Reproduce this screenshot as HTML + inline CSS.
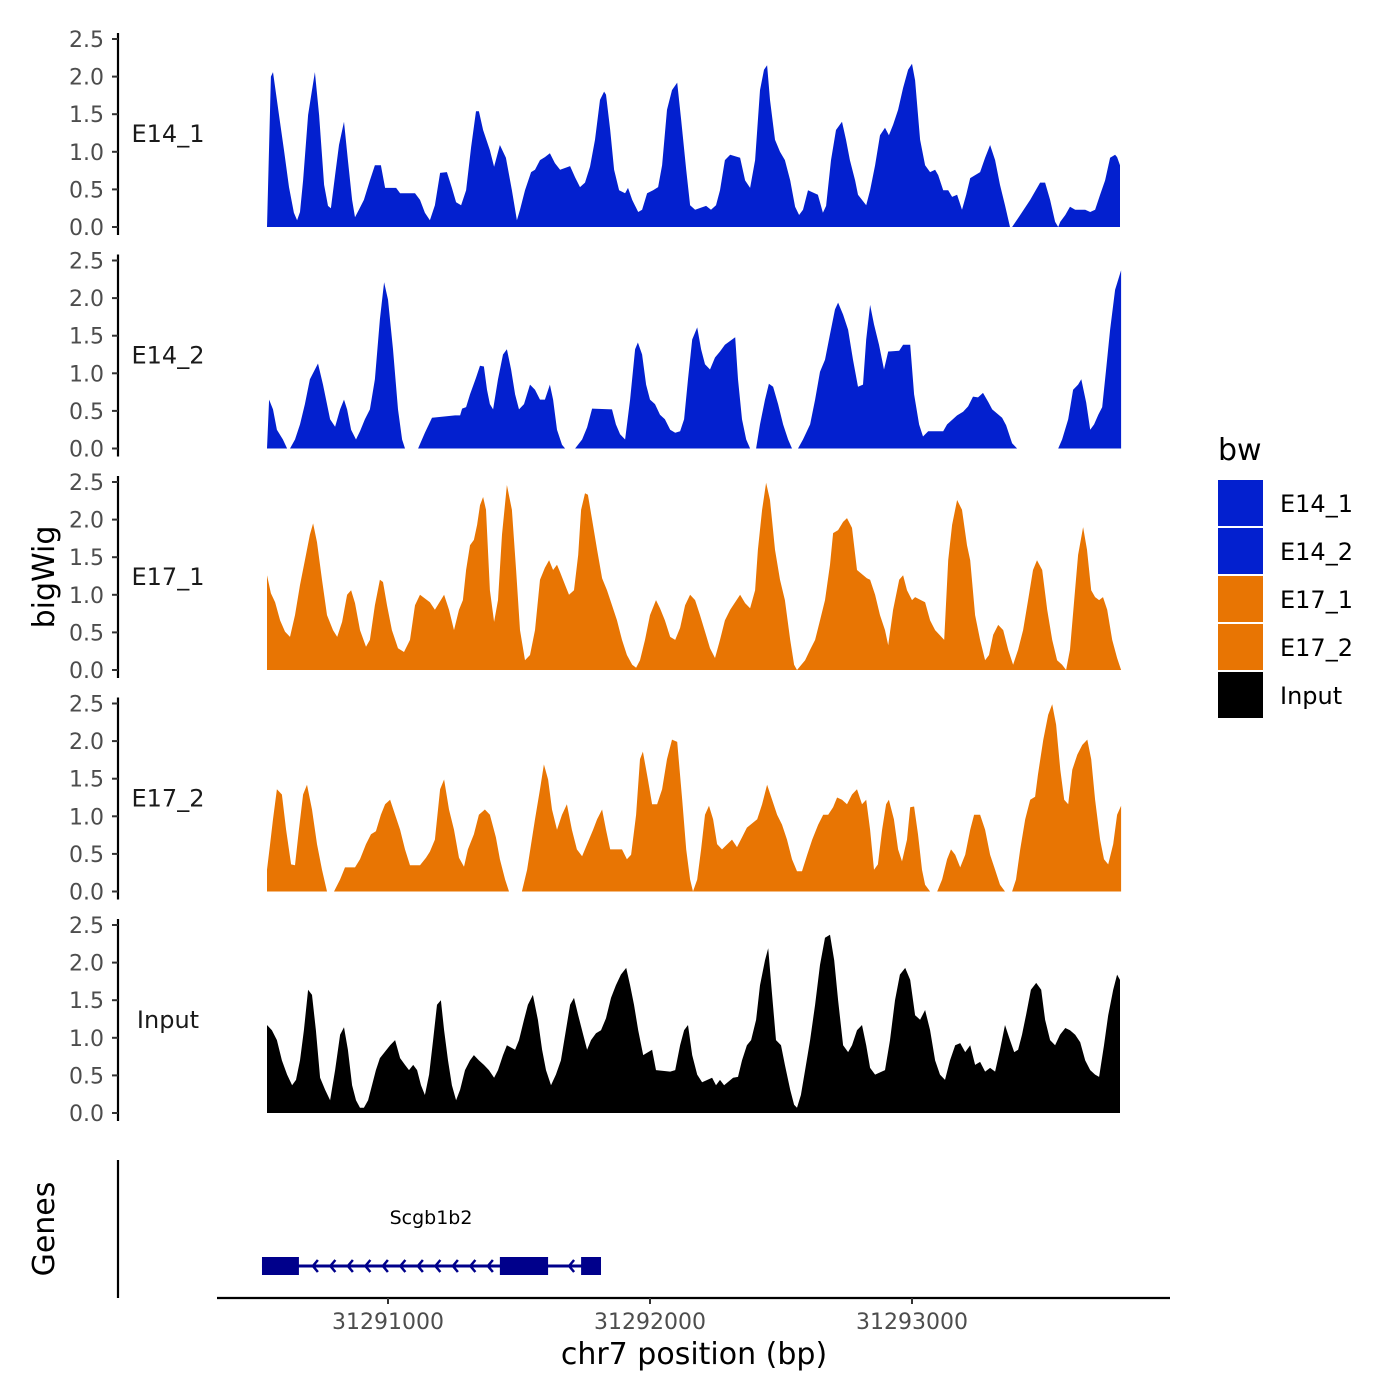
<!DOCTYPE html>
<html><head><meta charset="utf-8"><style>
html,body{margin:0;padding:0;background:#fff;}
svg{display:block;font-family:"DejaVu Sans","Liberation Sans",sans-serif;}
</style></head><body>
<svg id="chart" width="1400" height="1400" viewBox="0 0 1400 1400" xmlns="http://www.w3.org/2000/svg"></svg>
<script>
// ---- data ----
const trackNames = ["E14_1","E14_2","E17_1","E17_2","Input"];
const trackColors = ["#0320cf","#0320cf","#e87503","#e87503","#000000"];
const yTicks = [0,0.5,1,1.5,2,2.5];
const yTickLabels = ["0.0","0.5","1.0","1.5","2.0","2.5"];
const xTicks = [31291000,31292000,31293000];
const xTickLabels = ["31291000","31292000","31293000"];
const geneName = "Scgb1b2";
const geneStart = 31290519, geneEnd = 31291813;
const geneExonStarts = [31290519,31291427,31291737];
const geneExonEnds = [31290660,31291611,31291813];

const e14_1_pos = [31290538,31290553,31290561,31290584,31290603,31290622,31290641,31290653,31290664,31290676,31290695,31290710,31290721,31290737,31290756,31290771,31290782,31290798,31290813,31290832,31290847,31290863,31290874,31290889,31290908,31290931,31290950,31290973,31290989,31291031,31291046,31291103,31291122,31291141,31291160,31291179,31291199,31291225,31291244,31291260,31291279,31291298,31291317,31291336,31291347,31291363,31291389,31291405,31291427,31291450,31291473,31291492,31291504,31291523,31291546,31291561,31291580,31291599,31291618,31291637,31291657,31291695,31291714,31291733,31291752,31291771,31291790,31291809,31291825,31291832,31291848,31291863,31291882,31291905,31291916,31291932,31291955,31291970,31291989,31292012,31292031,31292046,31292065,31292084,31292104,31292119,31292138,31292153,31292172,31292214,31292233,31292252,31292267,31292286,31292306,31292344,31292363,31292382,31292401,31292420,31292435,31292447,31292458,31292477,31292496,31292515,31292535,31292554,31292569,31292584,31292603,31292641,31292660,31292672,31292691,31292710,31292733,31292748,31292763,31292783,31292794,31292825,31292840,31292859,31292878,31292897,31292912,31292928,31292947,31292966,31292985,31293000,31293012,31293031,31293050,31293069,31293088,31293100,31293119,31293138,31293153,31293172,31293191,31293207,31293222,31293260,31293279,31293298,31293317,31293336,31293355,31293374,31293382,31293413,31293451,31293489,31293508,31293527,31293546,31293558,31293566,31293585,31293603,31293623,31293661,31293680,31293699,31293718,31293737,31293756,31293775,31293783,31293794];
const e14_1_val = [0,2.0,2.06,1.49,1.02,0.53,0.19,0.09,0.2,0.62,1.49,1.82,2.06,1.49,0.56,0.28,0.25,0.69,1.09,1.4,0.89,0.36,0.13,0.23,0.36,0.62,0.82,0.82,0.52,0.52,0.45,0.45,0.36,0.19,0.09,0.29,0.72,0.73,0.52,0.33,0.29,0.49,1.06,1.54,1.54,1.29,1.02,0.8,1.09,0.92,0.49,0.09,0.23,0.49,0.73,0.76,0.89,0.93,0.98,0.85,0.76,0.81,0.66,0.53,0.59,0.8,1.16,1.69,1.8,1.76,1.29,0.76,0.49,0.45,0.52,0.36,0.2,0.23,0.45,0.49,0.53,0.82,1.56,1.82,1.92,1.42,0.76,0.29,0.23,0.28,0.23,0.29,0.49,0.89,0.96,0.92,0.62,0.52,0.89,1.82,2.09,2.15,1.69,1.16,1.0,0.89,0.62,0.27,0.16,0.23,0.49,0.43,0.19,0.28,0.89,1.29,1.4,1.16,0.89,0.62,0.43,0.29,0.49,0.82,1.22,1.32,1.22,1.36,1.56,1.85,2.09,2.17,1.95,1.16,0.82,0.73,0.76,0.69,0.49,0.49,0.4,0.43,0.23,0.43,0.65,0.73,0.92,1.09,0.89,0.56,0.29,0,0,0.16,0.36,0.59,0.59,0.36,0.07,0,0.07,0.16,0.27,0.23,0.23,0.2,0.23,0.43,0.62,0.92,0.96,0.93,0.82];

const e14_2_pos = [31290538,31290546,31290561,31290576,31290599,31290615,31290626,31290645,31290664,31290683,31290702,31290733,31290752,31290779,31290798,31290817,31290832,31290844,31290859,31290878,31290893,31290912,31290931,31290950,31290969,31290985,31291000,31291019,31291038,31291054,31291065,31291115,31291141,31291168,31291256,31291275,31291283,31291298,31291313,31291336,31291351,31291366,31291378,31291389,31291401,31291420,31291439,31291454,31291470,31291485,31291500,31291519,31291542,31291561,31291580,31291599,31291618,31291630,31291645,31291664,31291676,31291714,31291741,31291760,31291779,31291855,31291870,31291886,31291905,31291924,31291943,31291954,31291970,31291985,31292000,31292019,31292038,31292057,31292077,31292096,31292115,31292130,31292145,31292161,31292180,31292195,31292210,31292229,31292248,31292267,31292286,31292325,31292336,31292351,31292367,31292382,31292405,31292420,31292439,31292454,31292470,31292489,31292508,31292527,31292542,31292565,31292584,31292611,31292630,31292649,31292668,31292687,31292706,31292718,31292737,31292756,31292775,31292794,31292813,31292825,31292840,31292855,31292874,31292893,31292909,31292951,31292966,31292993,31293008,31293027,31293042,31293062,31293119,31293134,31293172,31293195,31293214,31293233,31293252,31293271,31293291,31293306,31293344,31293359,31293382,31293401,31293558,31293573,31293596,31293615,31293634,31293646,31293665,31293680,31293695,31293711,31293726,31293741,31293756,31293775,31293798];
const e14_2_val = [0,0.65,0.52,0.25,0.12,0,0,0.12,0.32,0.59,0.92,1.13,0.85,0.39,0.29,0.52,0.65,0.52,0.25,0.12,0.23,0.39,0.52,0.92,1.72,2.21,1.98,1.32,0.52,0.12,0,0,0.21,0.41,0.44,0.44,0.53,0.55,0.72,0.94,1.1,1.09,0.78,0.59,0.52,0.92,1.25,1.32,1.05,0.72,0.52,0.59,0.85,0.78,0.65,0.65,0.85,0.65,0.25,0.05,0,0,0.12,0.28,0.53,0.52,0.32,0.19,0.12,0.65,1.32,1.41,1.25,0.85,0.65,0.59,0.45,0.39,0.25,0.21,0.23,0.39,0.92,1.45,1.61,1.32,1.12,1.05,1.21,1.29,1.38,1.48,0.92,0.39,0.12,0,0,0.32,0.65,0.86,0.82,0.59,0.32,0.12,0,0,0.12,0.32,0.65,1.02,1.18,1.52,1.85,1.94,1.78,1.58,1.18,0.82,0.85,1.45,1.91,1.65,1.38,1.05,1.29,1.3,1.38,1.38,0.72,0.32,0.16,0.23,0.23,0.32,0.44,0.49,0.56,0.69,0.68,0.74,0.62,0.52,0.41,0.31,0.07,0,0,0.12,0.39,0.78,0.85,0.92,0.61,0.25,0.32,0.45,0.55,1.05,1.58,2.11,2.37];

const e17_1_pos = [31290538,31290553,31290569,31290588,31290607,31290626,31290645,31290664,31290683,31290702,31290714,31290729,31290748,31290767,31290790,31290806,31290825,31290844,31290859,31290874,31290893,31290916,31290931,31290950,31290969,31290981,31290996,31291015,31291038,31291061,31291084,31291103,31291122,31291160,31291179,31291214,31291233,31291252,31291271,31291286,31291298,31291313,31291328,31291340,31291351,31291363,31291374,31291389,31291405,31291420,31291435,31291454,31291473,31291489,31291504,31291523,31291542,31291561,31291580,31291599,31291615,31291630,31291645,31291657,31291676,31291691,31291710,31291726,31291737,31291752,31291763,31291779,31291798,31291817,31291836,31291855,31291874,31291893,31291912,31291932,31291947,31291962,31291981,31292000,31292023,31292038,31292057,31292077,31292096,31292115,31292134,31292153,31292172,31292191,31292210,31292229,31292248,31292267,31292286,31292306,31292344,31292363,31292382,31292401,31292412,31292428,31292443,31292458,31292477,31292496,31292515,31292535,31292550,31292561,31292592,31292611,31292630,31292649,31292668,31292687,31292699,31292718,31292737,31292752,31292771,31292790,31292828,31292840,31292859,31292878,31292897,31292909,31292928,31292951,31292966,31292981,31293000,31293012,31293050,31293069,31293088,31293123,31293138,31293153,31293172,31293191,31293210,31293222,31293241,31293260,31293279,31293294,31293310,31293329,31293348,31293367,31293386,31293405,31293424,31293443,31293462,31293477,31293497,31293516,31293535,31293554,31293573,31293588,31293603,31293619,31293634,31293653,31293668,31293684,31293699,31293714,31293729,31293745,31293764,31293783,31293798];
const e17_1_val = [1.26,1.02,0.9,0.66,0.51,0.44,0.73,1.13,1.46,1.8,1.95,1.7,1.2,0.73,0.53,0.44,0.64,1.0,1.06,0.89,0.53,0.31,0.4,0.86,1.2,1.17,0.86,0.53,0.29,0.24,0.4,0.86,1.0,0.9,0.8,1.0,0.8,0.53,0.8,0.93,1.33,1.66,1.73,1.93,2.19,2.3,2.13,1.06,0.64,0.93,1.8,2.46,2.13,1.33,0.53,0.13,0.2,0.53,1.2,1.36,1.46,1.33,1.4,1.3,1.13,1.0,1.06,1.53,2.13,2.35,2.33,2.0,1.6,1.22,1.06,0.86,0.66,0.4,0.2,0.07,0.03,0.13,0.4,0.73,0.93,0.82,0.66,0.44,0.4,0.56,0.86,1.0,0.93,0.73,0.51,0.29,0.16,0.4,0.66,0.8,1.0,0.89,0.82,1.06,1.6,2.13,2.49,2.26,1.6,1.2,0.93,0.4,0.07,0,0.13,0.27,0.4,0.66,0.93,1.4,1.82,1.86,1.97,2.02,1.89,1.33,1.22,1.2,1.0,0.73,0.53,0.33,0.8,1.2,1.26,1.06,0.93,0.97,0.9,0.66,0.53,0.4,1.46,1.93,2.26,2.13,1.66,1.46,0.73,0.4,0.13,0.2,0.47,0.6,0.53,0.27,0.07,0.27,0.53,0.93,1.33,1.46,1.33,0.8,0.4,0.13,0.07,0,0.27,0.93,1.53,1.9,1.6,1.06,0.97,0.93,0.97,0.8,0.4,0.16,0];

const e17_2_pos = [31290538,31290550,31290561,31290576,31290595,31290611,31290630,31290645,31290660,31290676,31290691,31290710,31290729,31290748,31290767,31290794,31290817,31290836,31290874,31290893,31290916,31290935,31290954,31290973,31290989,31291008,31291027,31291046,31291065,31291084,31291122,31291145,31291160,31291179,31291199,31291214,31291233,31291252,31291271,31291290,31291305,31291328,31291347,31291370,31291389,31291412,31291427,31291447,31291462,31291511,31291531,31291546,31291561,31291580,31291595,31291611,31291626,31291645,31291664,31291683,31291702,31291721,31291741,31291760,31291783,31291798,31291817,31291832,31291848,31291893,31291912,31291928,31291947,31291962,31291973,31291992,31292008,31292027,31292046,31292065,31292084,31292104,31292123,31292138,31292153,31292164,31292180,31292195,31292210,31292225,31292241,31292256,31292275,31292313,31292332,31292351,31292370,31292409,31292428,31292447,31292466,31292485,31292504,31292523,31292542,31292561,31292580,31292600,31292619,31292642,31292661,31292680,31292699,31292714,31292733,31292752,31292771,31292790,31292809,31292825,31292840,31292855,31292870,31292886,31292901,31292912,31292931,31292947,31292962,31292981,31292993,31293008,31293023,31293038,31293050,31293069,31293096,31293115,31293134,31293149,31293165,31293184,31293203,31293222,31293237,31293260,31293279,31293298,31293317,31293336,31293355,31293382,31293397,31293413,31293432,31293451,31293470,31293481,31293501,31293520,31293535,31293550,31293566,31293581,31293596,31293612,31293631,31293650,31293669,31293684,31293699,31293718,31293733,31293749,31293768,31293783,31293798];
const e17_2_val = [0.29,0.63,0.96,1.36,1.29,0.82,0.36,0.35,0.82,1.29,1.42,1.09,0.63,0.29,0,0,0.16,0.32,0.32,0.43,0.63,0.76,0.8,1.02,1.16,1.22,1.02,0.82,0.56,0.35,0.35,0.45,0.53,0.69,1.36,1.49,1.09,0.82,0.45,0.33,0.56,0.76,1.02,1.09,1.02,0.72,0.43,0.16,0,0,0.29,0.63,0.96,1.36,1.69,1.49,1.09,0.82,1.02,1.16,0.82,0.56,0.47,0.63,0.82,0.96,1.09,0.82,0.56,0.56,0.43,0.49,1.02,1.76,1.86,1.49,1.16,1.16,1.36,1.76,2.02,1.99,1.22,0.56,0.16,0,0.16,0.56,1.02,1.14,0.96,0.63,0.56,0.69,0.59,0.72,0.85,0.96,1.16,1.42,1.22,1.02,0.89,0.69,0.43,0.27,0.27,0.49,0.69,0.89,1.02,1.02,1.12,1.25,1.22,1.16,1.29,1.36,1.16,1.22,0.82,0.29,0.36,0.82,1.16,1.22,0.96,0.56,0.4,0.69,1.12,1.13,0.76,0.29,0.09,0,0,0.16,0.43,0.56,0.49,0.32,0.49,0.82,1.02,1.02,0.82,0.49,0.29,0.09,0,0,0.16,0.56,0.96,1.22,1.26,1.56,2.02,2.35,2.49,2.22,1.62,1.22,1.16,1.62,1.82,1.95,2.02,1.76,1.22,0.69,0.43,0.36,0.63,1.02,1.14];

const input_pos = [31290538,31290557,31290576,31290595,31290615,31290634,31290649,31290664,31290679,31290695,31290710,31290725,31290741,31290760,31290779,31290798,31290817,31290832,31290847,31290863,31290878,31290893,31290908,31290924,31290939,31290954,31290969,31291008,31291027,31291046,31291065,31291080,31291096,31291111,31291126,31291141,31291157,31291172,31291187,31291202,31291214,31291229,31291244,31291260,31291275,31291294,31291313,31291328,31291347,31291366,31291385,31291405,31291420,31291439,31291454,31291485,31291500,31291519,31291534,31291553,31291572,31291588,31291603,31291622,31291641,31291660,31291679,31291695,31291710,31291726,31291745,31291760,31291775,31291794,31291813,31291832,31291851,31291870,31291889,31291909,31291924,31291939,31291955,31291974,31292008,31292023,31292077,31292096,31292115,31292130,31292145,31292161,31292180,31292199,31292237,31292252,31292267,31292283,31292317,31292336,31292351,31292370,31292386,31292405,31292420,31292439,31292451,31292466,31292481,31292500,31292515,31292535,31292550,31292561,31292576,31292592,31292611,31292630,31292649,31292668,31292687,31292703,31292718,31292737,31292756,31292771,31292790,31292809,31292825,31292840,31292859,31292897,31292916,31292935,31292954,31292974,31292993,31293012,31293031,31293050,31293069,31293088,31293107,31293126,31293145,31293165,31293184,31293203,31293222,31293241,31293260,31293279,31293298,31293317,31293336,31293355,31293374,31293390,31293405,31293420,31293435,31293454,31293474,31293493,31293508,31293527,31293546,31293565,31293585,31293603,31293623,31293642,31293661,31293680,31293699,31293714,31293733,31293749,31293768,31293783,31293794];
const input_val = [1.17,1.1,0.97,0.7,0.51,0.37,0.44,0.7,1.1,1.64,1.57,1.1,0.47,0.31,0.17,0.57,1.04,1.14,0.84,0.37,0.17,0.07,0.07,0.17,0.37,0.57,0.73,0.9,0.97,0.73,0.64,0.57,0.64,0.57,0.37,0.24,0.51,0.97,1.44,1.5,1.1,0.7,0.37,0.17,0.31,0.57,0.7,0.77,0.7,0.64,0.57,0.47,0.57,0.77,0.9,0.84,0.97,1.24,1.44,1.57,1.24,0.84,0.57,0.37,0.51,0.7,1.1,1.44,1.53,1.3,1.04,0.84,0.97,1.06,1.1,1.26,1.53,1.7,1.84,1.93,1.7,1.44,1.1,0.77,0.84,0.57,0.55,0.57,0.9,1.1,1.17,0.77,0.51,0.41,0.47,0.37,0.44,0.37,0.47,0.48,0.7,0.9,0.97,1.24,1.7,2.03,2.19,1.57,0.97,0.9,0.64,0.31,0.11,0.07,0.24,0.57,0.97,1.44,1.97,2.33,2.37,2.03,1.5,0.9,0.81,0.9,1.1,1.17,0.9,0.6,0.51,0.57,0.97,1.5,1.84,1.93,1.77,1.3,1.24,1.37,1.1,0.7,0.51,0.44,0.7,0.9,0.93,0.81,0.9,0.64,0.68,0.55,0.6,0.55,0.84,1.17,0.97,0.81,0.84,1.04,1.3,1.64,1.73,1.64,1.24,0.97,0.9,1.04,1.13,1.1,1.04,0.94,0.7,0.57,0.51,0.48,0.9,1.3,1.64,1.84,1.77];

const trackPos = [e14_1_pos,e14_2_pos,e17_1_pos,e17_2_pos,input_pos];
const trackVal = [e14_1_val,e14_2_val,e17_1_val,e17_2_val,input_val];

// ---- scales ----
const NS = "http://www.w3.org/2000/svg";
const svg = document.getElementById("chart");
function xs(bp){ return 388 + (bp - 31291000) * 0.262; }
function panelBase(i){ return 227 + i * 221.5; }
function ys(i, v){ return panelBase(i) - v * 75.2; }
function mk(tag, attrs, parent){
  const el = document.createElementNS(NS, tag);
  for (const k in attrs) el.setAttribute(k, attrs[k]);
  (parent || svg).appendChild(el);
  return el;
}

// ---- tracks ----
for (let i = 0; i < trackNames.length; i++) {
  const g = mk("g", {});
  
  
  const pos = trackPos[i], val = trackVal[i];
  const base = panelBase(i);
  let d = "M" + xs(pos[0]).toFixed(1) + "," + base;
  for (let j = 0; j < pos.length; j++) d += "L" + xs(pos[j]).toFixed(1) + "," + ys(i, val[j]).toFixed(1);
  d += "L" + xs(pos[pos.length-1]).toFixed(1) + "," + base + "Z";
  const area = mk("path", {d: d, fill: trackColors[i], stroke: "none"}, g);
  
  
  const ax = mk("line", {x1:118, x2:118, y1: ys(i,2.5)-6, y2: base+8, stroke:"#000", "stroke-width":2.2}, g);
  
  
  for (let t = 0; t < yTicks.length; t++) {
    const yy = ys(i, yTicks[t]);
    const tk = mk("line", {x1:112, x2:118, y1:yy, y2:yy, stroke:"#333", "stroke-width":2}, g);
    
    
    const tl = mk("text", {x:104, y:yy+8, "text-anchor":"end", "font-size":22, fill:"#4d4d4d"}, g);
    tl.textContent = yTickLabels[t];
    
    
  }
  const lab = mk("text", {x:168, y:ys(i,1.25)+9, "text-anchor":"middle", "font-size":24, fill:"#1a1a1a"}, g);
  lab.textContent = trackNames[i];
  
  
}

// ---- y titles ----
const yt = mk("text", {x:0, y:0, transform:"translate(54,577) rotate(-90)", "text-anchor":"middle", "font-size":30, fill:"#000"});
yt.textContent = "bigWig";


const gt = mk("text", {x:0, y:0, transform:"translate(54,1229) rotate(-90)", "text-anchor":"middle", "font-size":30, fill:"#000"});
gt.textContent = "Genes";



// ---- gene track ----
const gax = mk("line", {x1:118, x2:118, y1:1160, y2:1298, stroke:"#000", "stroke-width":2.2});


const gg = mk("g", {});


const gl = mk("line", {x1:xs(geneStart), x2:xs(geneEnd), y1:1266, y2:1266, stroke:"#00008b", "stroke-width":3}, gg);


for (let k = 0; k < geneExonStarts.length; k++) {
  const r = mk("rect", {x:xs(geneExonStarts[k]), y:1257, width:xs(geneExonEnds[k])-xs(geneExonStarts[k]), height:18, fill:"#00008b"}, gg);
  
  
}
for (let k = 0; k + 1 < geneExonStarts.length; k++) {
  const a = xs(geneExonEnds[k]), b = xs(geneExonStarts[k+1]);
  for (let cx = b - 12; cx > a + 8; cx -= 17.5) {
    const c = mk("path", {d:"M"+(cx+5)+",1260L"+cx+",1266L"+(cx+5)+",1272", fill:"none", stroke:"#00008b", "stroke-width":2.5}, gg);
    
    
  }
}
const gn = mk("text", {x:431, y:1224, "text-anchor":"middle", "font-size":19, fill:"#000"}, gg);
gn.textContent = geneName;



// ---- x axis ----
const xl = mk("line", {x1:217, x2:1170, y1:1298, y2:1298, stroke:"#000", "stroke-width":2.2});


for (let t = 0; t < xTicks.length; t++) {
  const xx = xs(xTicks[t]);
  const tk = mk("line", {x1:xx, x2:xx, y1:1298, y2:1304, stroke:"#333", "stroke-width":2});
  
  
  const tl = mk("text", {x:xx, y:1329, "text-anchor":"middle", "font-size":22, fill:"#4d4d4d"});
  tl.textContent = xTickLabels[t];
  
  
}
const xt = mk("text", {x:694, y:1364, "text-anchor":"middle", "font-size":30, fill:"#000"});
xt.textContent = "chr7 position (bp)";



// ---- legend ----
const lg = mk("g", {});


const lt = mk("text", {x:1218, y:460, "font-size":30, fill:"#000"}, lg);
lt.textContent = "bw";


for (let i = 0; i < trackNames.length; i++) {
  const ky = 480 + i * 48;
  const r = mk("rect", {x:1218, y:ky, width:45, height:46, fill:trackColors[i]}, lg);
  
  
  const t = mk("text", {x:1280, y:ky+32, "font-size":24, fill:"#000"}, lg);
  t.textContent = trackNames[i];
  
  
}
</script>
</body></html>
